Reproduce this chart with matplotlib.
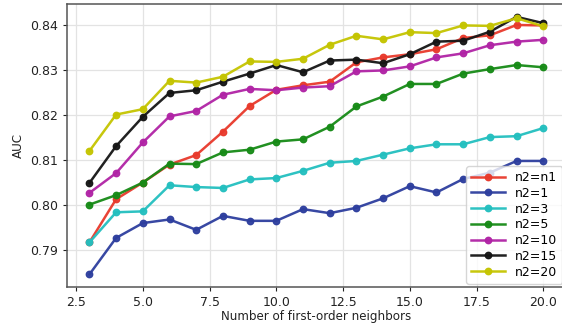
import matplotlib
matplotlib.use('Agg')
import matplotlib.pyplot as plt
import numpy as np

# number of first-order neighbors
k = np.arange(3, 21)

auc_n1 = [0.7917, 0.8013, 0.8050, 0.8090, 0.8111, 0.8163, 0.8220, 0.8256, 0.8266,
          0.8274, 0.8317, 0.8328, 0.8335, 0.8346, 0.8371, 0.8377, 0.8400, 0.8399]
auc_1 = [0.7846, 0.7927, 0.7960, 0.7968, 0.7945, 0.7976, 0.7965, 0.7965, 0.7991,
         0.7982, 0.7994, 0.8015, 0.8042, 0.8028, 0.8058, 0.8072, 0.8098, 0.8098]
auc_3 = [0.7917, 0.7984, 0.7986, 0.8044, 0.8040, 0.8038, 0.8057, 0.8060, 0.8076,
         0.8094, 0.8098, 0.8112, 0.8126, 0.8135, 0.8135, 0.8151, 0.8153, 0.8171]
auc_5 = [0.8001, 0.8022, 0.8050, 0.8092, 0.8091, 0.8117, 0.8123, 0.8141, 0.8146,
         0.8174, 0.8219, 0.8241, 0.8269, 0.8269, 0.8292, 0.8302, 0.8311, 0.8306]
auc_10 = [0.8027, 0.8071, 0.8139, 0.8197, 0.8209, 0.8245, 0.8258, 0.8255, 0.8261,
          0.8264, 0.8297, 0.8299, 0.8308, 0.8328, 0.8337, 0.8355, 0.8363, 0.8367]
auc_15 = [0.8049, 0.8131, 0.8196, 0.8249, 0.8255, 0.8274, 0.8292, 0.8311, 0.8295,
          0.8321, 0.8323, 0.8315, 0.8335, 0.8363, 0.8365, 0.8385, 0.8418, 0.8404]
auc_20 = [0.8120, 0.8201, 0.8213, 0.8276, 0.8272, 0.8285, 0.8319, 0.8318, 0.8325,
          0.8356, 0.8376, 0.8368, 0.8384, 0.8382, 0.8399, 0.8398, 0.8415, 0.8397]

series = [
    ('n2=n1', auc_n1, '#e8392b'),
    ('n2=1', auc_1, '#2d3e9e'),
    ('n2=3', auc_3, '#23bfbf'),
    ('n2=5', auc_5, '#168a16'),
    ('n2=10', auc_10, '#b023a5'),
    ('n2=15', auc_15, '#151515'),
    ('n2=20', auc_20, '#c4c400'),
]

fs = 9
fig = plt.figure(figsize=(5.62, 3.24), dpi=100)
ax = fig.add_axes([0.1187, 0.1133, 0.8884, 0.8744])

for label, vals, col in series:
    ax.plot(k, vals, marker='o', markersize=4.6, linewidth=1.8, color=col, alpha=0.95, label=label)

ax.grid(True, color='#e3e3e3', linewidth=0.9)
ax.set_axisbelow(True)
for side in ['left', 'bottom', 'top', 'right']:
    ax.spines[side].set_color('#555555')
    ax.spines[side].set_linewidth(1.1)
ax.tick_params(axis='both', labelsize=fs, colors='#222222', length=3, width=0.8, pad=3)
ax.set_yticks([0.79, 0.80, 0.81, 0.82, 0.83, 0.84])
ax.set_xlabel('Number of first-order neighbors', fontsize=8.6, color='#222222', labelpad=1)
ax.set_ylabel('AUC', fontsize=8.6, color='#222222')

leg = ax.legend(loc='lower right', fontsize=fs, handlelength=2.7, labelspacing=0.22,
                framealpha=0.8, borderaxespad=0.3)

fig.savefig('out.png', dpi=100)
